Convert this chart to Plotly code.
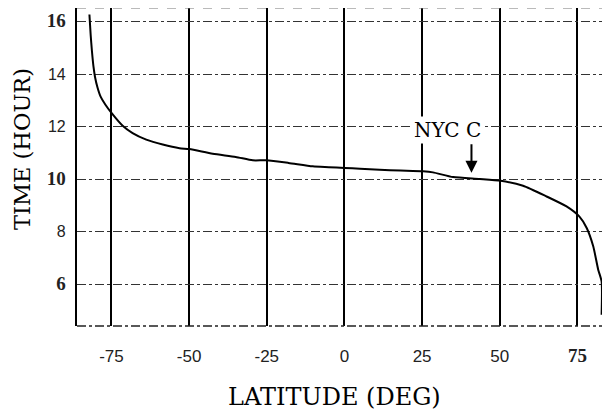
import plotly.graph_objects as go

# Curve data
latitude = [-82.1, -81.7, -81.3, -80.8, -80.3, -79.5, -78.5, -77.0, -75.0, -71.4,
            -68.2, -63.8, -58.5, -53.1, -49.9, -42.4, -35.0, -29.5, -25.2, -18.0,
            -10.2, -5.0, 0.0, 5.0, 11.3, 18.0, 25.3, 28.5, 35.0, 43.6,
            50.3, 57.5, 65.1, 71.5, 75.6, 78.0, 80.1, 81.7, 82.8, 82.8]
time_hour = [16.28, 15.5, 14.9, 14.3, 13.9, 13.5, 13.15, 12.85, 12.53, 12.04,
             11.76, 11.51, 11.32, 11.18, 11.15, 10.97, 10.85, 10.72, 10.72, 10.62,
             10.49, 10.46, 10.43, 10.40, 10.36, 10.33, 10.30, 10.26, 10.08, 10.01,
             9.94, 9.75, 9.34, 8.96, 8.58, 8.14, 7.44, 6.55, 6.10, 4.83]

x_ticks = [-75, -50, -25, 0, 25, 50, 75]
x_ticktext = ["-75", "-50", "-25", "0", "25", "50",
              "<span style='font-family:Liberation Serif;font-size:19px'><b>75</b></span>"]
y_ticks = [6, 8, 10, 12, 14, 16]
y_ticktext = ["<span style='font-family:Liberation Serif;font-size:19px'><b>6</b></span>", "8",
              "<span style='font-family:Liberation Serif;font-size:19px'><b>10</b></span>", "12", "14",
              "<span style='font-family:Liberation Serif;font-size:19px'><b>16</b></span>"]

nyc_label = "NYC C"
nyc_text_lat = 33.3
nyc_text_time = 11.89
nyc_lat = 40.9
nyc_time = 10.25
nyc_tail_time = 11.39

fig = go.Figure()
fig.add_trace(go.Scatter(x=latitude, y=time_hour, mode="lines",
                         line=dict(color="black", width=2, shape="spline", smoothing=0.6),
                         showlegend=False, hoverinfo="skip"))

fig.update_xaxes(range=[-86.1, 85.5], tickvals=x_ticks, ticktext=x_ticktext,
                 showgrid=True, gridcolor="black", gridwidth=2.2,
                 zeroline=False, showline=False, ticks="",
                 ticklabelstandoff=18,
                 tickfont=dict(family="Liberation Sans", size=17, color="#222"))
fig.update_yaxes(range=[4.40, 16.53], tickvals=y_ticks, ticktext=y_ticktext,
                 showgrid=True, gridcolor="#333", gridwidth=1.4, griddash="dashdot",
                 zeroline=False, showline=True, linecolor="black", linewidth=2.2,
                 ticks="", ticklabelstandoff=6,
                 tickfont=dict(family="Liberation Sans", size=16, color="#222"))

# bottom and top frame lines
fig.add_shape(type="line", xref="paper", yref="paper", x0=0, x1=1, y0=0, y1=0,
              line=dict(color="#222", width=1.6, dash="dashdot"))
fig.add_shape(type="line", xref="paper", yref="paper", x0=0, x1=1, y0=1, y1=1,
              line=dict(color="#777", width=1.2, dash="dash"))

fig.add_annotation(x=nyc_lat, y=nyc_time, ax=nyc_lat, ay=nyc_tail_time, axref="x", ayref="y",
                   xref="x", yref="y", text="", showarrow=True, arrowhead=2,
                   arrowsize=1.2, arrowwidth=2, arrowcolor="black")
fig.add_annotation(x=nyc_text_lat, y=nyc_text_time, xref="x", yref="y", text=nyc_label,
                   showarrow=False, bgcolor="white",
                   font=dict(family="DejaVu Serif", size=20, color="black"))

fig.add_annotation(text="LATITUDE (DEG)", xref="paper", yref="paper",
                   x=0.483, y=-0.222, xanchor="center", yanchor="middle", showarrow=False,
                   font=dict(family="DejaVu Serif", size=24, color="black"))
fig.add_annotation(text="TIME (HOUR)", xref="paper", yref="paper",
                   x=-0.103, y=0.557, xanchor="center", yanchor="middle", showarrow=False,
                   textangle=-90,
                   font=dict(family="DejaVu Serif", size=22.5, color="black"))

# page body has an 8px margin, so the figure is sized to fill the visible window
fig.update_layout(width=602, height=404, margin=dict(l=69, r=0, t=0, b=86),
                  paper_bgcolor="white", plot_bgcolor="white")

fig.write_html("out.html")
